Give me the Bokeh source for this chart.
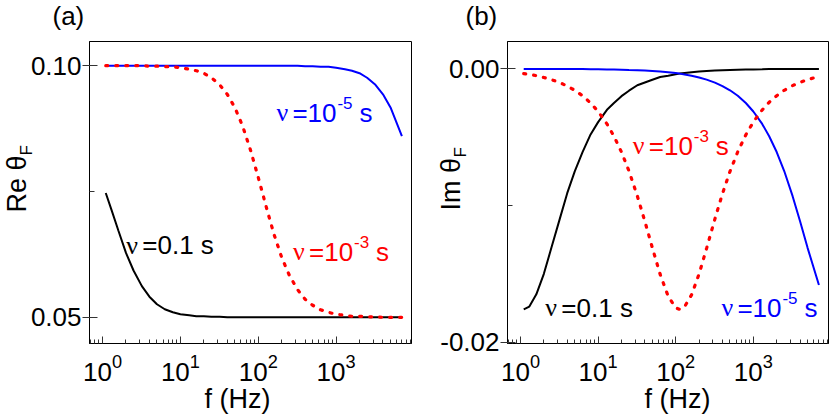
from bokeh.plotting import figure
from bokeh.layouts import row
from bokeh.models import FixedTicker, PrintfTickFormatter, Label, Range1d, Title
from bokeh.embed import file_html
from bokeh.resources import INLINE

# ---------------- data ----------------
freq = [1.1, 1.3, 1.6, 2, 2.5, 3.2, 4, 5, 6.3, 8,
        10, 13, 16, 20, 25, 32, 40, 50, 63, 80,
        100, 112, 130, 160, 200, 250, 320, 400, 500, 630, 800,
        1000, 1300, 1600, 2000, 2500, 3200, 4000, 5000, 7000]

re_nu_01 = [0.0747, 0.0714, 0.0672, 0.0628, 0.0593, 0.0562, 0.0541, 0.0526, 0.0516, 0.0510,
            0.0506, 0.0504, 0.0502, 0.0502, 0.0501, 0.0501, 0.0500, 0.0500, 0.0500, 0.0500,
            0.0500, 0.0500, 0.0500, 0.0500, 0.0500, 0.0500, 0.0500, 0.0500, 0.0500, 0.0500, 0.0500,
            0.0500, 0.0500, 0.0500, 0.0500, 0.0500, 0.0500, 0.0500, 0.0500, 0.0500]
re_nu_1e3 = [0.1000, 0.1000, 0.1000, 0.1000, 0.1000, 0.1000, 0.0999, 0.0999, 0.0998, 0.0998,
             0.0996, 0.0993, 0.0990, 0.0985, 0.0976, 0.0962, 0.0943, 0.0917, 0.0880, 0.0831,
             0.0778, 0.0750, 0.0713, 0.0664, 0.0619, 0.0584, 0.0555, 0.0536, 0.0524, 0.0515, 0.0510,
             0.0506, 0.0504, 0.0502, 0.0502, 0.0501, 0.0501, 0.0500, 0.0500, 0.0500]
re_nu_1e5 = [0.1000, 0.1000, 0.1000, 0.1000, 0.1000, 0.1000, 0.1000, 0.1000, 0.1000, 0.1000,
             0.1000, 0.1000, 0.1000, 0.1000, 0.1000, 0.1000, 0.1000, 0.1000, 0.1000, 0.1000,
             0.1000, 0.1000, 0.1000, 0.1000, 0.1000, 0.1000, 0.1000, 0.0999, 0.0999, 0.0998, 0.0998,
             0.0996, 0.0993, 0.0990, 0.0985, 0.0976, 0.0962, 0.0943, 0.0917, 0.0860]

im_nu_01 = [-0.0176, -0.0174, -0.0165, -0.0150, -0.0131, -0.0110, -0.0091, -0.0075, -0.0061, -0.0048,
            -0.0039, -0.0030, -0.0025, -0.0020, -0.0016, -0.0012, -0.0010, -0.0008, -0.0006, -0.0005,
            -0.00040, -0.00035, -0.00030, -0.00025, -0.00020, -0.00016, -0.00012, -0.00010, -0.00008, -0.00006, -0.00005,
            -0.00004, -0.00003, -0.00002, -0.00002, -0.00002, -0.00001, -0.00001, -0.00001, -0.00001]
im_nu_1e3 = [-0.00035, -0.00041, -0.00050, -0.00063, -0.00079, -0.00101, -0.00126, -0.00157, -0.00197, -0.00250,
             -0.00312, -0.00403, -0.00493, -0.00609, -0.00748, -0.00930, -0.01115, -0.01310, -0.01504, -0.01665,
             -0.01749, -0.01760, -0.01741, -0.01654, -0.01501, -0.01313, -0.01098, -0.00914, -0.00751, -0.00607, -0.00483,
             -0.00389, -0.00301, -0.00245, -0.00197, -0.00157, -0.00123, -0.00099, -0.00079, -0.00056]
im_nu_1e5 = [-0.0000035, -0.000004, -0.000005, -0.000006, -0.000008, -0.00001, -0.000013, -0.000016, -0.00002, -0.000025,
             -0.00003, -0.00004, -0.00005, -0.00006, -0.00008, -0.00010, -0.00013, -0.00016, -0.00020, -0.00025,
             -0.00031, -0.00035, -0.00041, -0.00050, -0.00063, -0.00079, -0.00101, -0.00126, -0.00157, -0.00197, -0.00250,
             -0.00312, -0.00403, -0.00493, -0.00609, -0.00748, -0.00930, -0.01115, -0.01310, -0.01582]

x_major = [1, 10, 100, 1000]
x_minor = [0.7, 0.8, 0.9, 2, 3, 4, 5, 6, 7, 8, 9, 20, 30, 40, 50, 60, 70, 80, 90,
           200, 300, 400, 500, 600, 700, 800, 900, 2000, 3000, 4000, 5000, 6000, 7000, 8000, 9000]
re_major = [0.05, 0.10]
re_minor = [0.075]
im_major = [-0.02, 0.0]
im_minor = [-0.01]

SANS = "Liberation Sans"
SERIF = "Liberation Serif"
FS = "26px"
BLACK, RED, BLUE = "#000000", "#ff0000", "#0000ff"


def make_fig(width, bl, br, yr, ymaj, ymin):
    p = figure(width=width, height=415, x_axis_type="log",
               x_range=Range1d(0.68, 9300), y_range=Range1d(*yr),
               output_backend="svg", toolbar_location=None,
               min_border_left=bl, min_border_right=br,
               min_border_top=41, min_border_bottom=72)
    p.grid.visible = False
    p.background_fill_color = "white"
    p.border_fill_color = "white"
    p.outline_line_color = "black"
    p.outline_line_alpha = 1.0
    p.outline_line_width = 1
    p.xaxis.ticker = FixedTicker(ticks=x_major, minor_ticks=x_minor)
    p.yaxis.ticker = FixedTicker(ticks=ymaj, minor_ticks=ymin)
    p.yaxis.formatter = PrintfTickFormatter(format="%.2f")
    for ax in (p.xaxis[0], p.yaxis[0]):
        ax.axis_line_color = "black"
        ax.axis_line_width = 1
        ax.major_tick_line_color = "#333333"
        ax.minor_tick_line_color = "#333333"
        ax.major_label_text_font = SANS
        ax.major_label_text_font_size = FS
        ax.major_label_text_color = "black"
    p.xaxis.major_tick_in = 7
    p.xaxis.major_tick_out = 0
    p.xaxis.minor_tick_in = 4
    p.xaxis.minor_tick_out = 0
    p.xaxis.major_label_standoff = 10
    p.yaxis.major_tick_in = 8
    p.yaxis.major_tick_out = 7
    p.yaxis.minor_tick_in = 5
    p.yaxis.minor_tick_out = 0
    p.yaxis.major_label_standoff = 1
    return p


def title(p, place, text, size, offset, standoff, valign):
    p.add_layout(Title(text=text, align="left", offset=offset, standoff=standoff,
                       vertical_align=valign, text_font=SANS, text_font_size=size,
                       text_font_style="normal", text_color="black"), place)


def lbl(p, text, x, y, color="black", font=SERIF if False else SANS, size=FS, **kw):
    p.add_layout(Label(x=x, y=y, text=text, text_font=font, text_font_size=size,
                       text_color=color, text_baseline="alphabetic", text_align="left", **kw))


def nu_label(p, x, y, color, sup=None):
    lbl(p, "ν", x, y, color, font=SERIF)
    if sup is None:
        lbl(p, "=0.1 s", x, y, color, x_offset=16)
    else:
        lbl(p, "=10", x, y, color, x_offset=16)
        lbl(p, sup, x, y, color, size="17px", x_offset=61, y_offset=10)
        lbl(p, "s", x, y, color, x_offset=83)


# ---------------- panel (a) ----------------
pa = make_fig(418, 89, 7, (0.0448, 0.1048), re_major, re_minor)
pa.line(freq, re_nu_01, line_color=BLACK, line_width=2)
pa.line(freq, re_nu_1e5, line_color=BLUE, line_width=2)
pa.line(freq, re_nu_1e3, line_color=RED, line_width=3.2, line_dash="2 8", line_cap="round")
nu_label(pa, 171, 0.0906, BLUE, "-5")
nu_label(pa, 2.02, 0.0643, BLACK)
nu_label(pa, 280, 0.0630, RED, "-3")
title(pa, "left", "F", "17px", 188, -17, "bottom")
title(pa, "left", "Re θ", "27px", 131, -17, "bottom")
title(pa, "above", "(a)\n\u00a0", FS, -37, -43, "top")
title(pa, "below", "f (Hz)", "27px", 115, 0, "top")

# ---------------- panel (b) ----------------
pb = make_fig(412, 89, 2, (-0.0201, 0.0020), im_major, im_minor)
pb.line(freq, im_nu_01, line_color=BLACK, line_width=2)
pb.line(freq, im_nu_1e5, line_color=BLUE, line_width=2)
pb.line(freq, im_nu_1e3, line_color=RED, line_width=3.2, line_dash="2 8", line_cap="round")
nu_label(pb, 28, -0.00562, RED, "-3")
nu_label(pb, 2.09, -0.01749, BLACK)
nu_label(pb, 388, -0.01749, BLUE, "-5")
title(pb, "left", "F", "17px", 186, -64, "bottom")
title(pb, "left", "Im θ", "27px", 133, -56, "bottom")
title(pb, "above", "(b)\n\u00a0", FS, -42, -43, "top")
title(pb, "below", "f (Hz)", "27px", 137, 0, "top")

layout = row(pa, pb)
open("out.html", "w").write(file_html(layout, INLINE))
